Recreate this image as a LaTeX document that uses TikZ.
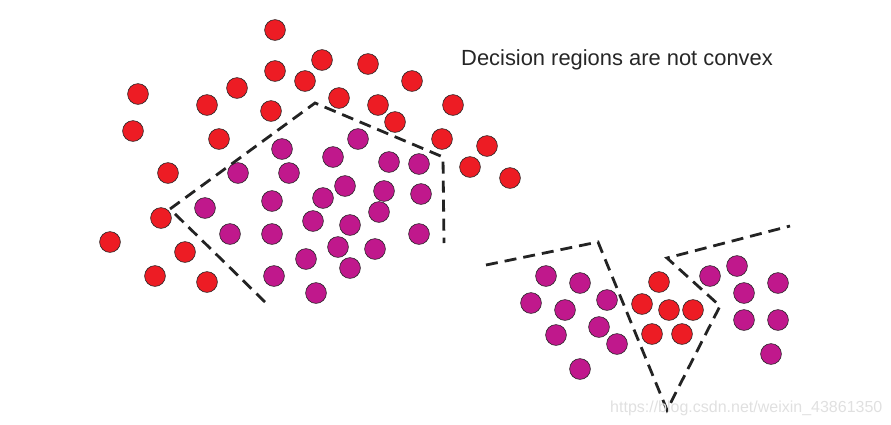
\documentclass[tikz,border=0pt]{standalone}
\usepackage{fontspec}
\setmainfont{Liberation Sans}
\usetikzlibrary{positioning}
\definecolor{DotRed}{RGB}{237,28,36}
\definecolor{DotPurple}{RGB}{192,24,140}
\definecolor{LineDark}{RGB}{35,35,35}

\begin{document}
\begin{tikzpicture}[x=1pt,y=-1pt,
  reddot/.style={circle,draw=black!85,line width=0.6pt,fill=DotRed,inner sep=0pt,minimum size=20.8pt},
  purpledot/.style={reddot,fill=DotPurple},
  boundary/.style={line width=2.8pt,LineDark,dash pattern=on 12pt off 7pt}]
  \useasboundingbox (0,0) rectangle (891,424);

  \node[anchor=base west,inner sep=0pt,font=\fontsize{21.9}{26}\selectfont,text=black!85]
    (title) at (461,65) {Decision regions are not convex};

  \foreach \x/\y [count=\i] in {275/30,322/60,275/71,305/81,368/64,412/81,138/94,237/88,
      207/105,271/111,339/98,378/105,395/122,453/105,133/131,219/139,442/139,487/146,
      470/167,510/178,168/173,161/218,110/242,185/252,155/276,207/282,
      659/282,642/304,669/310,693/310,652/334,682/334}
    \node[reddot] (r\i) at (\x,\y) {};

  \foreach \x/\y [count=\i] in {282/149,333/157,358/139,389/162,419/164,238/173,289/173,
      345/186,323/198,384/191,421/194,272/201,205/208,379/212,313/221,350/225,230/234,
      272/234,419/234,338/247,375/249,306/259,350/268,274/276,316/293,
      546/276,580/283,531/303,565/310,607/300,599/327,556/335,617/344,580/369,
      710/276,737/266,744/293,778/283,744/320,778/320,771/354}
    \node[purpledot] (p\i) at (\x,\y) {};

  \coordinate (a1) at (265,302);
  \coordinate (a2) at (170,209);
  \coordinate (a3) at (315,103);
  \coordinate (a4) at (443,157);
  \coordinate (a5) at (444,243);
  \draw[boundary] (a1) -- (a2) -- (a3) -- (a4) -- (a5);

  \coordinate (b1) at (486,265);
  \coordinate (b2) at (598,242);
  \coordinate (b3) at (667,410);
  \coordinate (b4) at (720,306);
  \coordinate (b5) at (667,258);
  \coordinate (b6) at (790,226);
  \draw[boundary] (b1) -- (b2) -- (b3) -- (b4) -- (b5) -- (b6);

  \node[anchor=base west,inner sep=0pt,font=\fontsize{16}{19}\selectfont,text=black!12]
    (mark) at (610,412) {https://blog.csdn.net/weixin\_43861350};
\end{tikzpicture}
\end{document}
